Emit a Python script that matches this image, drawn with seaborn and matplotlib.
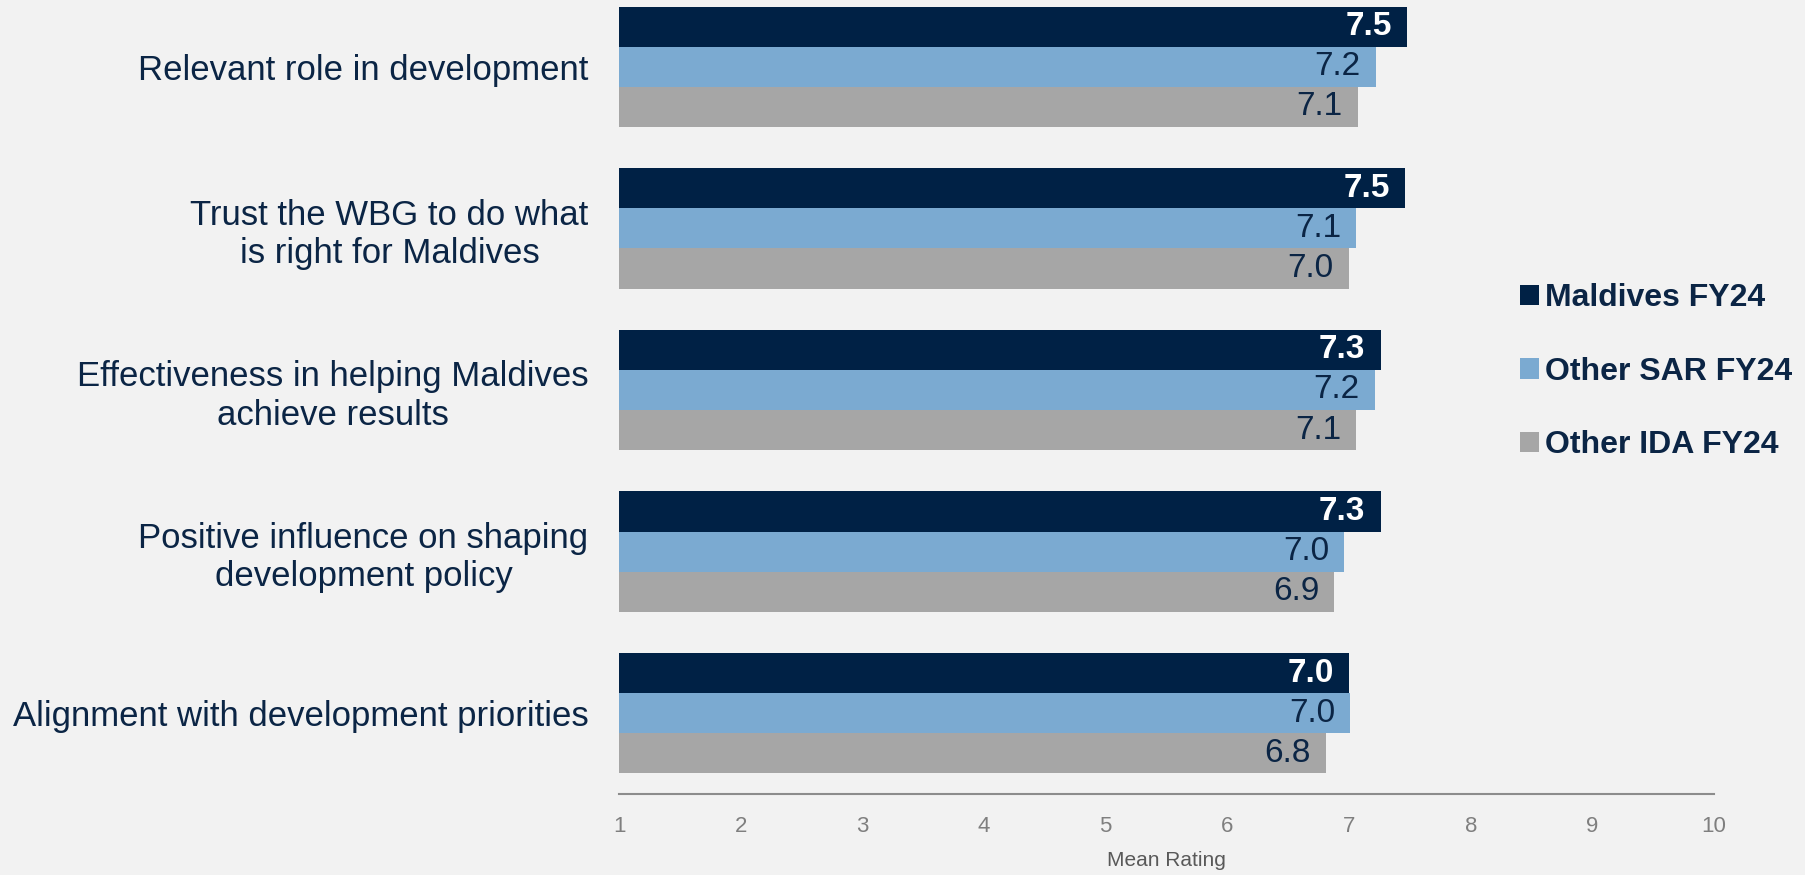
import pandas as pd
import matplotlib.pyplot as plt
import seaborn as sns
from matplotlib.patches import Patch

categories = ["Relevant role in development",
              "Trust the WBG to do what\nis right for Maldives",
              "Effectiveness in helping Maldives\nachieve results",
              "Positive influence on shaping\ndevelopment policy",
              "Alignment with development priorities"]
series = ["Maldives FY24", "Other SAR FY24", "Other IDA FY24"]
maldives = [7.48, 7.46, 7.26, 7.26, 7.00]
other_sar = [7.22, 7.06, 7.21, 6.96, 7.01]
other_ida = [7.07, 7.00, 7.06, 6.88, 6.81]
x_ticks = [1, 2, 3, 4, 5, 6, 7, 8, 9, 10]

NAVY = "#002145"
BLUE = "#7BAAD1"
GRAY = "#A6A6A6"
BG = "#F2F2F2"
TXT = "#0B2545"

rows = []
for vals, s in zip([maldives, other_sar, other_ida], series):
    for c, v in zip(categories, vals):
        rows.append({"cat": c, "series": s, "value": v})
df = pd.DataFrame(rows)

sns.set_style("white")
plt.rcParams["font.family"] = ["Liberation Sans", "DejaVu Sans"]

fig = plt.figure(figsize=(18.05, 8.75), dpi=100, facecolor=BG)
ax = fig.add_axes([0.343, 0.0926, 0.6066, 0.9234])
ax.set_facecolor(BG)

sns.barplot(data=df, y="cat", x="value", hue="series", orient="h",
            palette=[NAVY, BLUE, GRAY], width=0.745, gap=0, dodge=True,
            saturation=1, legend=False, ax=ax, errorbar=None, linewidth=0)

ax.set_xlim(1, 10)
ax.set_ylim(4.5, -0.5)
ax.set_xticks(x_ticks)
ax.set_xticklabels([str(t) for t in x_ticks], color="#7F7F7F", fontsize=16)
ax.tick_params(axis="x", direction="in", length=8, color="#8C8C8C", pad=16)
ax.tick_params(axis="y", length=0, pad=22)
for lab in ax.get_yticklabels():
    lab.set_fontsize(25)
    lab.set_color(TXT)
    lab.set_multialignment("center")
ax.set_ylabel("")
ax.set_xlabel("Mean Rating", color="#595959", fontsize=15, labelpad=10)
for side in ["top", "right", "left"]:
    ax.spines[side].set_visible(False)
ax.spines["bottom"].set_color("#8C8C8C")
ax.spines["bottom"].set_linewidth(1.5)

for i, cont in enumerate(ax.containers):
    texts = ax.bar_label(cont, fmt="%.1f", padding=-11, fontsize=24,
                         color="white" if i == 0 else TXT,
                         fontweight="bold" if i == 0 else "normal")
    for t in texts:
        t.set_ha("right")

handles = [Patch(facecolor=c, edgecolor="none") for c in [NAVY, BLUE, GRAY]]
leg = fig.legend(handles, series, loc="center left", bbox_to_anchor=(0.826, 0.575),
                 frameon=False, handlelength=0.6, handleheight=0.6,
                 handletextpad=0.2, labelspacing=1.36,
                 prop={"weight": "bold", "size": 23})
for t in leg.get_texts():
    t.set_color(TXT)

fig.savefig("out.png", dpi=100, facecolor=BG)
